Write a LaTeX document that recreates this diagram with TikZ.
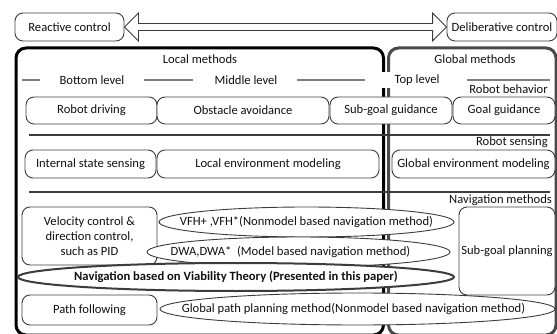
\documentclass[tikz,border=0pt]{standalone}
\usepackage{fontspec}
\setmainfont{Carlito}
\usetikzlibrary{shapes.geometric,calc}
\definecolor{bord}{HTML}{3C3C3C}
\definecolor{txt}{HTML}{111111}
\definecolor{gline}{HTML}{7F7F7F}
\definecolor{gframe}{HTML}{4A4A4A}
\begin{document}
\begin{tikzpicture}[x=1pt,y=-1pt,
  every node/.style={font=\fontsize{12.6}{15}\selectfont, text=txt},
  rbox/.style={draw=bord, line width=0.9pt, fill=white, rounded corners=8pt, inner sep=0pt},
  ell/.style={ellipse, draw=bord, line width=0.9pt, fill=white, inner sep=0pt},
  lvl/.style={draw=gline, line width=2pt},
  sepline/.style={draw=bord, line width=1.8pt},
  lab/.style={inner sep=0pt}]
\useasboundingbox (0,0) rectangle (557,334);

% top
\node[rbox, minimum width=109pt, minimum height=28pt] (rc) at (69.5,27) {Reactive control};
\node[rbox, minimum width=110pt, minimum height=28pt] (dc) at (502,27) {Deliberative control};
\path (rc.east) coordinate (al) (dc.west) coordinate (ar);
\draw[draw=bord, line width=0.9pt, fill=white, line join=miter]
  (al) -- ++(14,-14) -- ++(0,10.5) -- ($(ar)+(-14,-3.5)$) -- ++(0,-10.5) -- (ar)
  -- ++(-14,14) -- ++(0,-10.5) -- ($(al)+(14,3.5)$) -- ++(0,10.5) -- cycle;

% frames
\draw[line width=3pt, rounded corners=10pt] (16,48) rectangle (383.5,335);
\draw[gframe, line width=3pt, rounded corners=10pt] (388.5,48) rectangle (556,335);

\node[lab] (lm) at (200,59) {Local methods};
\node[lab] (gm) at (475,59) {Global methods};
\fill[white] (376,72) rectangle (393,88);
\node[lab] (tl) at (417,80) {Top level};
\node[lab] (bl) at (92,80) {Bottom level};
\node[lab] (ml) at (246,80) {Middle level};
\draw[lvl] (22,80) -- (40,80);
\draw[lvl] (144,80) -- (193,80);
\draw[lvl] (297,80) -- (365,80);
\draw[lvl] (467,80) -- (550,80);
\node[lab, anchor=east] (rb) at (548,89) {Robot behavior};

% row 1
\node[rbox, minimum width=131pt, minimum height=27pt] (rd) at (91.5,110.5) {Robot driving};
\node[rbox, minimum width=172pt, minimum height=27pt] (oa) at (243,110.5) {Obstacle avoidance};
\node[rbox, minimum width=122pt, minimum height=27pt] (sg) at (391,110.5) {Sub-goal guidance};
\node[rbox, minimum width=102pt, minimum height=27pt] (gg) at (504,110.5) {Goal guidance};

\draw[sepline] (29,135) -- (550,135);
\node[lab, anchor=east] (rs) at (548,142) {Robot sensing};

% row 2
\node[rbox, minimum width=131pt, minimum height=28pt] (is) at (90.5,164) {Internal state sensing};
\node[rbox, minimum width=222pt, minimum height=28pt] (le) at (268,164) {Local environment modeling};
\node[rbox, minimum width=163pt, minimum height=28pt] (ge) at (473.5,164) {Global environment modeling};

\draw[sepline] (29,192) -- (550,192);
\node[lab, anchor=east] (nm) at (552,200) {Navigation methods};

% row 3
\node[rbox, minimum width=135pt, minimum height=58pt, align=center] (vc) at (89.5,236) {Velocity control \&\\direction control,\\such as PID};
\node[rbox, minimum width=96pt, minimum height=88pt] (sp) at (507,251) {Sub-goal planning};
\node[rbox, minimum width=135pt, minimum height=30pt] (pf) at (89.5,310) {Path following};

\node[ell, minimum width=295pt, minimum height=30pt] (vfh) at (306.5,222) {\makebox[0pt]{VFH+ ,VFH*(Nonmodel based navigation method)}};
\node[ell, minimum width=303pt, minimum height=30pt] (dwa) at (298.5,252) {\makebox[0pt]{\hspace*{-16pt}DWA,DWA*~ (Model based navigation method)}};
\node[ell, minimum width=436pt, minimum height=28pt, line width=2pt] (vt) at (236,277) {\makebox[0pt]{\bfseries Navigation based on Viability Theory (Presented in this paper)}};
\node[ell, minimum width=395pt, minimum height=32pt] (gp) at (357.5,309) {\makebox[0pt]{\hspace*{-8pt}Global path planning method(Nonmodel based navigation method)}};
\end{tikzpicture}
\end{document}
